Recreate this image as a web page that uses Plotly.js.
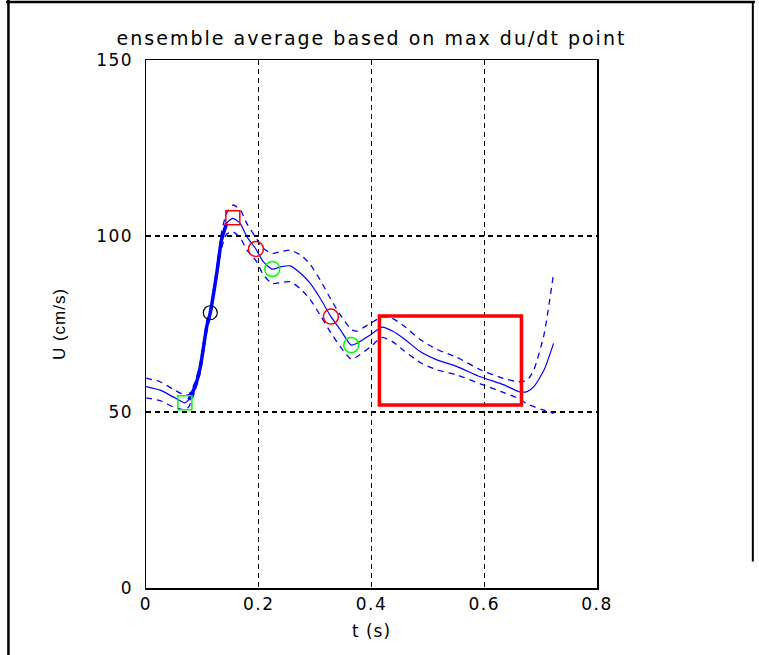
<!DOCTYPE html>
<html><head><meta charset="utf-8">
<script src="https://cdn.plot.ly/plotly-3.0.1.min.js"></script>
<style>
html,body{margin:0;padding:0;background:#fff;}
#chart{width:759px;height:655px;}
#chart .gtitle{letter-spacing:2px;}
#chart .xtick text,#chart .ytick text{letter-spacing:1.5px;}
#chart .xtitle,#chart .ytitle{letter-spacing:1px;}
</style>
</head><body><div id="chart"></div>
<script>
var t = [0.000,0.025,0.048,0.069,0.076,0.087,0.096,0.108,0.114,0.1255,0.134,0.143,0.154,0.167,0.179,0.195,0.208,0.224,0.240,0.256,0.274,0.291,0.309,0.328,0.345,0.364,0.374,0.398,0.419,0.437,0.457,0.487,0.516,0.552,0.593,0.635,0.661,0.676,0.688,0.706,0.723];
var meanU = [57.2,56.2,54.3,52.6,53.5,57.2,62.5,74.5,78.2,89.4,98.9,103.6,105.0,103.6,99.8,96.3,92.7,90.6,91.3,91.5,89.4,86.6,82.3,77.1,73.3,69.0,69.5,71.9,74.1,73.0,70.9,67.1,64.8,62.9,60.0,57.7,55.8,55.8,57.2,61.9,69.5];
var upperU = [59.6,58.6,56.5,54.8,55.0,58.5,64.0,76.0,79.5,91.0,101.0,106.5,108.8,107.5,103.5,99.5,96.5,95.0,95.6,96.0,94.6,92.0,87.5,82.0,77.5,73.5,73.0,75.2,77.0,76.6,74.5,70.5,67.8,65.5,62.0,59.5,58.6,59.0,62.0,72.0,89.4];
var lowerU = [54.0,53.2,51.5,50.6,51.5,56.0,61.0,73.0,77.0,88.0,96.5,100.5,101.2,99.5,96.0,93.0,89.0,86.5,86.8,87.0,85.0,82.0,77.5,72.5,68.5,65.0,65.7,68.5,71.2,70.0,67.5,64.0,62.0,60.5,58.0,55.5,53.8,52.3,51.5,50.5,49.6];

var upstrokeStart = 4, upstrokeEnd = 12;

var minT = [0.069], minU = [52.6];
var dudtT = [0.114], dudtU = [78.2];
var peakT = [0.154], peakU = [105.2];
var redCircT = [0.195, 0.328], redCircU = [96.3, 77.1];
var greenCircT = [0.224, 0.364], greenCircU = [90.6, 69.0];
var boxT = [0.414, 0.666], boxU = [52.0, 77.3];

var xTicks = [0, 0.2, 0.4, 0.6, 0.8], xTickText = ['0','0.2','0.4','0.6','0.8'];
var yTicks = [0, 50, 100, 150], yTickText = ['0','50','100','150'];

var blue = '#0000ff';
var traces = [
  {x: t, y: upperU, mode: 'lines', line: {color: blue, width: 1.3, dash: '6px,5px', shape: 'spline', smoothing: 0.6}, hoverinfo: 'skip'},
  {x: t, y: lowerU, mode: 'lines', line: {color: blue, width: 1.3, dash: '6px,5px', shape: 'spline', smoothing: 0.6}, hoverinfo: 'skip'},
  {x: t, y: meanU, mode: 'lines', line: {color: blue, width: 1.2, shape: 'spline', smoothing: 0.6}},
  {x: t.slice(upstrokeStart, upstrokeEnd), y: meanU.slice(upstrokeStart, upstrokeEnd), mode: 'lines', line: {color: blue, width: 3.5, shape: 'spline', smoothing: 0.6}},
  {x: minT, y: minU, mode: 'markers', marker: {symbol: 'square-open', size: 14, color: '#00ff00', line: {width: 1.5}}},
  {x: dudtT, y: dudtU, mode: 'markers', marker: {symbol: 'circle-open', size: 14, color: '#000000', line: {width: 1.2}}},
  {x: peakT, y: peakU, mode: 'markers', marker: {symbol: 'square-open', size: 14, color: '#ff0000', line: {width: 1.5}}},
  {x: redCircT, y: redCircU, mode: 'markers', marker: {symbol: 'circle-open', size: 15, color: '#ff0000', line: {width: 1.5}}},
  {x: greenCircT, y: greenCircU, mode: 'markers', marker: {symbol: 'circle-open', size: 15, color: '#00ff00', line: {width: 1.5}}}
];

var fam = 'DejaVu Sans, Liberation Sans, sans-serif';
var layout = {
  width: 759, height: 655,
  margin: {l: 146, r: 162, t: 60, b: 67},
  paper_bgcolor: '#fff', plot_bgcolor: '#fff',
  showlegend: false,
  font: {family: fam, size: 16, color: '#000'},
  title: {text: 'ensemble average based on max du/dt point', font: {family: fam, size: 19, color: '#000'}, x: 0.5, xref: 'paper', xanchor: 'center', y: 0.942, yanchor: 'middle'},
  xaxis: {range: [0, 0.8], tickvals: xTicks, ticktext: xTickText, showgrid: true, gridcolor: '#000', griddash: '5px,4px', gridwidth: 1.3,
          showline: true, linecolor: '#000', linewidth: 1.5, mirror: true, ticks: '', zeroline: false,
          tickfont: {family: fam, size: 17, color: '#000'},
          title: {text: 't (s)', font: {family: fam, size: 17, color: '#000'}, standoff: 12}},
  yaxis: {range: [0, 150], tickvals: yTicks, ticktext: yTickText, showgrid: true, gridcolor: '#000', griddash: '5px,4px', gridwidth: 1.3,
          showline: true, linecolor: '#000', linewidth: 1.5, mirror: true, ticks: '', zeroline: false, ticklabelstandoff: 8,
          tickfont: {family: fam, size: 17, color: '#000'},
          title: {text: 'U (cm/s)', font: {family: 'Liberation Sans, Arial, sans-serif', size: 17, color: '#000'}, standoff: 30}},
  shapes: [
    {type: 'rect', xref: 'x', yref: 'y', x0: boxT[0], x1: boxT[1], y0: boxU[0], y1: boxU[1], line: {color: '#ff0000', width: 3.5}},
    {type: 'line', xref: 'paper', yref: 'paper', x0: -0.305, x1: -0.305, y0: -0.2, y1: 1.14, line: {color: '#000', width: 2.5}},
    {type: 'line', xref: 'paper', yref: 'paper', x0: -0.31, x1: 1.35, y0: 1.11, y1: 1.11, line: {color: '#000', width: 2.5}},
    {type: 'line', xref: 'paper', yref: 'paper', x0: 1.3455, x1: 1.3455, y0: 1.11, y1: 0.05, line: {color: '#000', width: 2}}
  ]
};
Plotly.newPlot('chart', traces, layout, {displayModeBar: false, staticPlot: true});
</script></body></html>
